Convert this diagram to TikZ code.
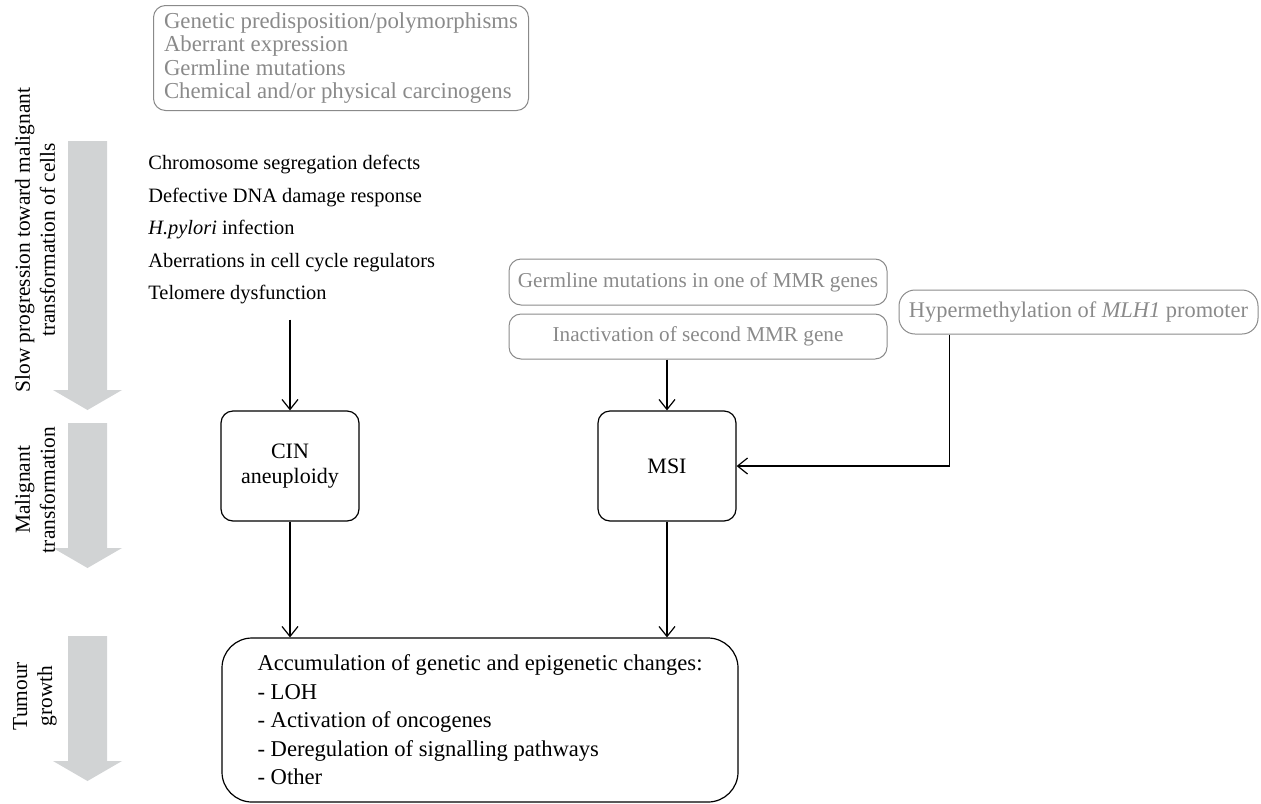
\documentclass[tikz,border=0pt]{standalone}
\usepackage{fontspec}
\setmainfont{Liberation Serif}
\usetikzlibrary{arrows.meta, positioning, calc}
\definecolor{softgray}{HTML}{8A8A8A}
\definecolor{bandgray}{HTML}{D1D3D4}

\begin{document}
\begin{tikzpicture}[
    x=0.5pt, y=-0.5pt,
    greybox/.style={rectangle, draw=softgray, text=softgray, rounded corners=6pt, line width=0.5pt, font=\fontsize{10.6}{12}\selectfont},
    stage/.style={rectangle, draw, rounded corners=6pt, minimum width=69pt, minimum height=55pt, align=center, line width=0.6pt, font=\fontsize{11}{12.5}\selectfont},
    sidelabel/.style={rotate=90, align=center, font=\fontsize{10.7}{12.5}\selectfont},
    arrow/.style={-{Straight Barb[length=5pt,width=8pt]}, line width=0.6pt}
]
\useasboundingbox (0,0) rectangle (1261,803);

% stage bands on the left
\foreach \top/\base/\tip in {141/390/410, 423/548/568, 636/761/781}
    \fill[bandgray] (68,\top) -- (107,\top) -- (107,\base) -- (122,\base) -- (87.5,\tip) -- (53,\base) -- (68,\base) -- cycle;

\node[sidelabel] (slow) at (35,240) {Slow progression toward malignant\\transformation of cells};
\node[sidelabel] (malig) at (35,490) {Malignant\\transformation};
\node[sidelabel] (growth) at (35,696) {Tumour\\growth};

% causes
\node[greybox, anchor=north west, align=left, minimum width=187.5pt, minimum height=52.5pt, font=\fontsize{11.4}{11.6}\selectfont] (causes) at (153,5)
    {Genetic predisposition/polymorphisms\\Aberrant expression\\Germline mutations\\Chemical and/or physical carcinogens};

\node[anchor=north west, align=left, inner sep=0pt, font=\fontsize{10.2}{16.25}\selectfont] (list) at (148,155)
    {Chromosome segregation defects\\Defective DNA damage response\\\textit{H.pylori} infection\\Aberrations in cell cycle regulators\\Telomere dysfunction};

\node[greybox, minimum width=189pt, minimum height=23pt] (germ) at (698,282) {Germline mutations in one of MMR genes};
\node[greybox, minimum width=189pt, minimum height=22.5pt] (inact) at (698,336.5) {Inactivation of second MMR gene};
\node[greybox, minimum width=179.5pt, minimum height=22pt, rounded corners=8pt, font=\fontsize{11.2}{12}\selectfont] (hyper) at (1078.5,312) {Hypermethylation of \textit{MLH1} promoter};

% instability types
\node[stage] (cin) at (290,466) {CIN\\aneuploidy};
\node[stage] (msi) at (667,466) {MSI};

\node[rectangle, draw, rounded corners=15pt, line width=0.6pt, minimum width=258pt, minimum height=82pt, align=left, font=\fontsize{11.3}{14.25}\selectfont] (acc) at (480,720)
    {Accumulation of genetic and epigenetic changes:\\- LOH\\- Activation of oncogenes\\- Deregulation of signalling pathways\\- Other};

\draw[arrow] ([yshift=-7.5pt]list.south -| cin.north) -- (cin.north);
\draw[arrow] (inact.south -| msi.north) -- (msi.north);
\draw[arrow] ([xshift=25.5pt]hyper.south west) |- (msi.east);
\draw[arrow] (cin.south) -- (cin.south |- acc.north);
\draw[arrow] (msi.south) -- (msi.south |- acc.north);

\end{tikzpicture}
\end{document}
